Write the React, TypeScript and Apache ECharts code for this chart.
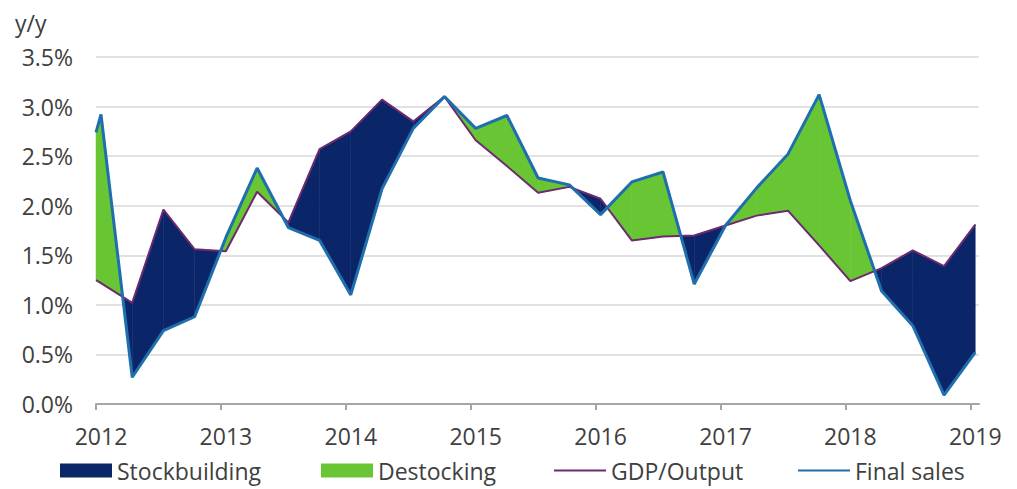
import React, { useEffect, useRef } from "react";
import * as echarts from "echarts";

const periods = [
  2012.0, 2012.04, 2012.29, 2012.54, 2012.79, 2013.04, 2013.29, 2013.54, 2013.79,
  2014.04, 2014.29, 2014.54, 2014.79, 2015.04, 2015.29, 2015.54, 2015.79,
  2016.04, 2016.29, 2016.54, 2016.79, 2017.04, 2017.29, 2017.54, 2017.79,
  2018.04, 2018.29, 2018.54, 2018.79, 2019.04,
];
const gdpOutput = [
  1.25, 1.22, 1.02, 1.96, 1.56, 1.54, 2.14, 1.83, 2.57, 2.75, 3.07, 2.85, 3.1,
  2.66, 2.4, 2.13, 2.19, 2.07, 1.65, 1.69, 1.7, 1.8, 1.9, 1.95, 1.6, 1.24, 1.37,
  1.55, 1.39, 1.81,
];
const finalSales = [
  2.74, 2.92, 0.27, 0.74, 0.88, 1.68, 2.38, 1.78, 1.65, 1.1, 2.17, 2.78, 3.1,
  2.78, 2.91, 2.28, 2.21, 1.91, 2.24, 2.34, 1.21, 1.8, 2.18, 2.52, 3.12, 2.05,
  1.14, 0.79, 0.09, 0.52,
];
const yearTicks = [2012, 2013, 2014, 2015, 2016, 2017, 2018, 2019];
const seriesNames = ["Stockbuilding", "Destocking", "GDP/Output", "Final sales"];

const NAVY = "#0a2568";
const GREEN = "#68c533";
const PURPLE = "#6e2a6e";
const BLUE = "#1f6fae";
const TEXT = "#404040";
const FONT = "Open Sans";

function segments() {
  const out: number[][] = [];
  for (let i = 0; i < periods.length - 1; i++) {
    out.push([
      periods[i], gdpOutput[i], finalSales[i],
      periods[i + 1], gdpOutput[i + 1], finalSales[i + 1],
    ]);
  }
  return out;
}

function makeRenderer(sign: number, color: string) {
  return (params: any, api: any) => {
    const x0 = api.value(0), g0 = api.value(1), f0 = api.value(2);
    const x1 = api.value(3), g1 = api.value(4), f1 = api.value(5);
    const d0 = (g0 - f0) * sign;
    const d1 = (g1 - f1) * sign;
    const children: any[] = [];
    const poly = (pts: number[][]) => ({
      type: "polygon",
      shape: { points: pts.map((p) => api.coord(p)) },
      style: { fill: color, stroke: color, lineWidth: 0.5 },
    });
    if (d0 >= 0 && d1 >= 0) {
      children.push(poly([[x0, g0], [x1, g1], [x1, f1], [x0, f0]]));
    } else if (d0 > 0 && d1 < 0) {
      const t = d0 / (d0 - d1);
      const xc = x0 + t * (x1 - x0);
      const yc = g0 + t * (g1 - g0);
      children.push(poly([[x0, g0], [xc, yc], [x0, f0]]));
    } else if (d0 < 0 && d1 > 0) {
      const t = d0 / (d0 - d1);
      const xc = x0 + t * (x1 - x0);
      const yc = g0 + t * (g1 - g0);
      children.push(poly([[xc, yc], [x1, g1], [x1, f1]]));
    }
    return { type: "group", children };
  };
}

export default function App() {
  const ref = useRef<HTMLDivElement>(null);
  useEffect(() => {
    if (!ref.current) return;
    const chart = echarts.init(ref.current, undefined, { renderer: "svg" });
    const segData = segments();
    const legendBase = {
      top: 454,
      itemWidth: 52,
      itemHeight: 14,
      itemGap: 5,
      textStyle: { fontSize: 23, color: TEXT, fontFamily: FONT },
    };
    chart.setOption({
      animation: false,
      backgroundColor: "#ffffff",
      textStyle: { fontFamily: FONT },
      grid: { left: 96, right: 38, top: 57, bottom: 85 },
      graphic: [
        {
          type: "text",
          left: 15,
          top: 11,
          style: { text: "y/y", fontSize: 23, fill: TEXT, fontFamily: FONT },
        },
      ],
      legend: [
        { ...legendBase, left: 55, data: [{ name: seriesNames[0], icon: "rect" }] },
        { ...legendBase, left: 316, data: [{ name: seriesNames[1], icon: "rect" }] },
        {
          ...legendBase,
          left: 548,
          data: [{ name: seriesNames[2], itemStyle: { opacity: 0 } }],
        },
        {
          ...legendBase,
          left: 792,
          data: [{ name: seriesNames[3], itemStyle: { opacity: 0 } }],
        },
      ],
      xAxis: {
        type: "value",
        min: 2012,
        max: 2019.07,
        axisLine: { show: true, lineStyle: { color: "#a6a6a6", width: 2 } },
        axisTick: {
          show: true,
          customValues: yearTicks,
          length: 6,
          lineStyle: { color: "#a6a6a6", width: 2 },
        },
        axisLabel: {
          customValues: yearTicks,
          formatter: (v: number) => String(Math.round(v)),
          fontSize: 23,
          color: TEXT,
          fontFamily: FONT,
          margin: 20,
          padding: [0, 0, 0, 10],
        },
        splitLine: { show: false },
      },
      yAxis: {
        type: "value",
        min: 0,
        max: 3.5,
        interval: 0.5,
        axisLine: { show: false },
        axisTick: { show: false },
        axisLabel: {
          formatter: (v: number) => v.toFixed(1) + "%",
          fontSize: 23,
          color: TEXT,
          fontFamily: FONT,
          margin: 23,
        },
        splitLine: { lineStyle: { color: "#d9d9d9", width: 1.5 } },
      },
      series: [
        {
          name: seriesNames[0],
          type: "custom",
          renderItem: makeRenderer(1, NAVY),
          data: segData,
          encode: { x: [0, 3], y: [1, 2, 4, 5] },
          itemStyle: { color: NAVY },
          z: 2,
        },
        {
          name: seriesNames[1],
          type: "custom",
          renderItem: makeRenderer(-1, GREEN),
          data: segData,
          encode: { x: [0, 3], y: [1, 2, 4, 5] },
          itemStyle: { color: GREEN },
          z: 2,
        },
        {
          name: seriesNames[2],
          type: "line",
          data: periods.map((p, i) => [p, gdpOutput[i]]),
          symbol: "none",
          lineStyle: { color: PURPLE, width: 2 },
          itemStyle: { color: PURPLE },
          z: 3,
        },
        {
          name: seriesNames[3],
          type: "line",
          data: periods.map((p, i) => [p, finalSales[i]]),
          symbol: "none",
          lineStyle: { color: BLUE, width: 3 },
          itemStyle: { color: BLUE },
          z: 4,
        },
      ],
    });
    return () => chart.dispose();
  }, []);
  return (
    <>
      <style>{`body{margin:0}`}</style>
      <div ref={ref} style={{ width: 1017, height: 489 }} />
    </>
  );
}
